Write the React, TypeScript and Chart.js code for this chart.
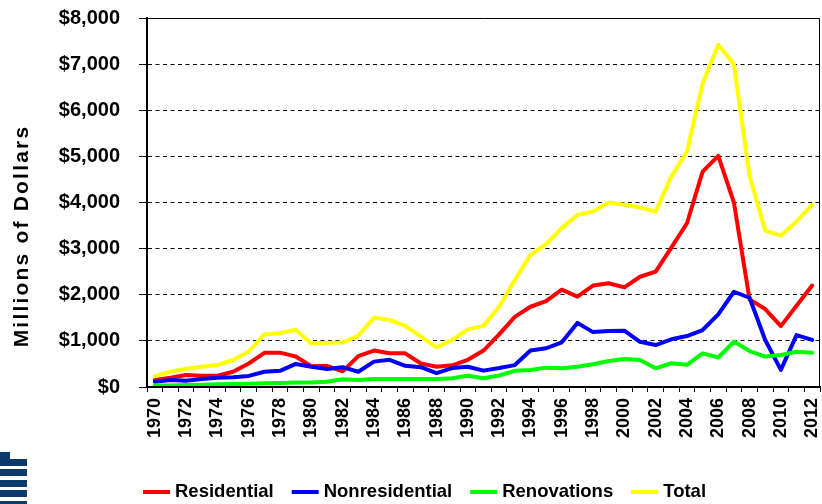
import { useEffect, useRef } from "react";
import { Chart, registerables } from "chart.js";

Chart.register(...registerables);

const years = [
  "1970","1971","1972","1973","1974","1975","1976","1977","1978","1979",
  "1980","1981","1982","1983","1984","1985","1986","1987","1988","1989",
  "1990","1991","1992","1993","1994","1995","1996","1997","1998","1999",
  "2000","2001","2002","2003","2004","2005","2006","2007","2008","2009",
  "2010","2011","2012",
];

const residential = [
  150, 200, 260, 245, 245, 330, 510, 740, 745, 660,
  450, 460, 340, 670, 790, 730, 730, 510, 440, 470,
  590, 790, 1140, 1520, 1740, 1860, 2110, 1960, 2200, 2250,
  2160, 2390, 2500, 3020, 3550, 4670, 5010, 4000, 1900, 1690,
  1320, 1760, 2200,
];

const nonresidential = [
  115, 150, 135, 175, 200, 210, 240, 330, 350, 500,
  440, 390, 430, 330, 550, 590, 460, 430, 300, 410,
  440, 355, 410, 475, 790, 840, 970, 1390, 1190, 1215,
  1220, 980, 910, 1035, 1105, 1235, 1575, 2065, 1935, 1020,
  370, 1125, 1020,
];

const renovations = [
  30, 35, 45, 50, 58, 65, 72, 80, 88, 100,
  95, 115, 170, 150, 175, 175, 175, 175, 175, 190,
  245, 190, 250, 350, 370, 420, 405, 440, 495, 565,
  605, 585, 405, 515, 480, 730, 640, 985, 780, 660,
  695, 765, 745,
];

const total = [
  235, 330, 395, 440, 475, 585, 770, 1140, 1165, 1240,
  945, 960, 965, 1110, 1500, 1455, 1325, 1090, 860, 1020,
  1250, 1325, 1740, 2320, 2865, 3095, 3445, 3730, 3805, 4000,
  3950, 3890, 3805, 4560, 5105, 6580, 7420, 7000, 4575, 3390,
  3280, 3590, 3950,
];

const seriesNames = ["Residential", "Nonresidential", "Renovations", "Total"];
const seriesColors = ["#FF0000", "#0000FF", "#00FF00", "#FFFF00"];
const yMin = 0;
const yMax = 8000;
const yStep = 1000;
const yTitle = "Millions of Dollars";

const FONT = '"Liberation Sans", Arial, Helvetica, sans-serif';

const framePlugin = {
  id: "frame",
  afterDraw(chart: any) {
    const { ctx, chartArea: a } = chart;
    ctx.save();
    ctx.strokeStyle = "#000";
    ctx.lineWidth = 1;
    ctx.beginPath();
    ctx.moveTo(a.left, a.top + 0.5);
    ctx.lineTo(a.right - 0.5, a.top + 0.5);
    ctx.lineTo(a.right - 0.5, a.bottom);
    ctx.stroke();
    ctx.lineWidth = 2;
    ctx.beginPath();
    ctx.moveTo(a.left, a.top);
    ctx.lineTo(a.left, a.bottom);
    ctx.lineTo(a.right, a.bottom);
    ctx.stroke();
    ctx.restore();
  },
};

const titlePlugin = {
  id: "ytitle",
  afterDraw(chart: any) {
    const { ctx } = chart;
    ctx.save();
    ctx.translate(22, 236);
    ctx.rotate(-Math.PI / 2);
    ctx.font = `bold 21px ${FONT}`;
    (ctx as any).letterSpacing = "2.2px";
    ctx.fillStyle = "#000";
    ctx.textAlign = "center";
    ctx.textBaseline = "middle";
    ctx.fillText(yTitle, 0, 0);
    ctx.restore();
  },
};

const legendPlugin = {
  id: "customLegend",
  afterDraw(chart: any) {
    const { ctx } = chart;
    ctx.save();
    ctx.font = `bold 18.5px ${FONT}`;
    ctx.textBaseline = "middle";
    ctx.textAlign = "left";
    let x = 143;
    const y = 492;
    chart.data.datasets.forEach((ds: any) => {
      ctx.fillStyle = ds.borderColor;
      ctx.fillRect(x, y - 2, 27, 4);
      ctx.fillStyle = "#000";
      ctx.fillText(ds.label, x + 32, y);
      x += 32 + ctx.measureText(ds.label).width + 18;
    });
    ctx.restore();
  },
};

const logoPlugin = {
  id: "logo",
  afterDraw(chart: any) {
    const { ctx } = chart;
    ctx.save();
    ctx.fillStyle = "#0b3a6b";
    ctx.fillRect(0, 452, 10, 14);
    ctx.fillRect(0, 459, 27, 7);
    ctx.fillRect(0, 469, 27, 7);
    ctx.fillRect(0, 480, 27, 7);
    ctx.fillRect(0, 490, 27, 7);
    ctx.fillRect(0, 501, 27, 3);
    ctx.restore();
  },
};

export default function App() {
  const ref = useRef<HTMLCanvasElement | null>(null);

  useEffect(() => {
    if (!ref.current) return;
    const data = [residential, nonresidential, renovations, total];
    const chart = new Chart(ref.current, {
      type: "line",
      data: {
        labels: years,
        datasets: data.map((d, i) => ({
          label: seriesNames[i],
          data: d,
          borderColor: seriesColors[i],
          backgroundColor: seriesColors[i],
          borderWidth: 4,
          pointRadius: 0,
          tension: 0,
          fill: false,
          borderJoinStyle: "round" as const,
          borderCapStyle: "round" as const,
          order: 4 - i,
        })),
      },
      options: {
        responsive: false,
        animation: false,
        layout: { padding: { top: 18, right: 2, bottom: 57, left: 0 } },
        plugins: {
          legend: { display: false },
          tooltip: { enabled: false },
          title: { display: false },
        },
        scales: {
          x: {
            offset: true,
            grid: {
              display: true,
              offset: true,
              drawOnChartArea: false,
              drawTicks: true,
              tickLength: 5,
              color: "#000",
              tickColor: "#000",
            },
            border: { display: true, color: "#000", width: 2 },
            ticks: {
              autoSkip: false,
              maxRotation: 90,
              minRotation: 90,
              padding: 6,
              color: "#000",
              font: { family: FONT, size: 18, weight: "bold" },
              callback: (_v: any, i: number) => (i % 2 === 0 ? years[i] : ""),
            },
            afterFit: (scale: any) => {
              scale.height = 60;
              scale.paddingLeft = 0;
              scale.paddingRight = 0;
              scale.paddingTop = 0;
              scale.paddingBottom = 0;
            },
          },
          y: {
            min: yMin,
            max: yMax,
            grid: {
              color: "#000",
              lineWidth: 1,
              tickLength: 8,
              tickColor: "#000",
              tickBorderDash: [],
            },
            border: { display: true, color: "#000", width: 2, dash: [4, 3.5] },
            ticks: {
              stepSize: yStep,
              padding: 19,
              color: "#000",
              font: { family: FONT, size: 20, weight: "bold" },
              callback: (v: any) => "$" + Number(v).toLocaleString("en-US"),
            },
            afterFit: (scale: any) => {
              scale.width = 147;
              scale.paddingTop = 0;
              scale.paddingBottom = 0;
              scale.paddingLeft = 0;
              scale.paddingRight = 0;
            },
          },
        },
      },
      plugins: [framePlugin, titlePlugin, legendPlugin, logoPlugin],
    });
    return () => chart.destroy();
  }, []);

  return (
    <div style={{ position: "fixed", left: 0, top: 0, width: 822, height: 504, background: "#fff" }}>
      <canvas ref={ref} width={822} height={504} style={{ display: "block" }} />
    </div>
  );
}
